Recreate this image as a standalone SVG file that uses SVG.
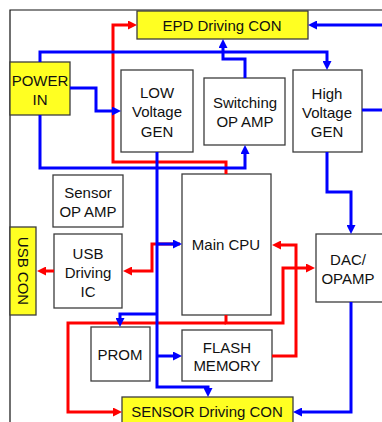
<svg xmlns="http://www.w3.org/2000/svg" width="382" height="422" viewBox="0 0 382 422">
<defs>
<style>
.box{fill:#ffffff;stroke:#3c3c3c;stroke-width:1.3}
.ybox{fill:#ffff22;stroke:#3c3c3c;stroke-width:1.3}
text{font-family:"Liberation Sans",Arial,sans-serif;font-size:15px;fill:#111;text-anchor:middle}
.r{fill:none;stroke:#ff0000;stroke-width:3}
.b{fill:none;stroke:#0000ff;stroke-width:3}
</style>
<marker id="ar" markerUnits="userSpaceOnUse" markerWidth="9" markerHeight="9" refX="3" refY="4.5" orient="auto"><path d="M0,0 L9,4.5 L0,9 z" fill="#ff0000"/></marker>
<marker id="ab" markerUnits="userSpaceOnUse" markerWidth="9" markerHeight="9" refX="3" refY="4.5" orient="auto"><path d="M0,0 L9,4.5 L0,9 z" fill="#0000ff"/></marker>
</defs>
<rect width="382" height="422" fill="#ffffff"/>
<path d="M10,422 V10 H382" fill="none" stroke="#111" stroke-width="1.2"/>

<g id="nodes">
<g id="epd"><rect class="ybox" x="137" y="11" width="171" height="28"/><text x="222" y="31">EPD Driving CON</text></g>
<g id="power"><rect class="ybox" x="10" y="62" width="60" height="53"/><text x="40" y="86">POWER</text><text x="40" y="105">IN</text></g>
<g id="lowv"><rect class="box" x="121" y="70" width="72" height="82"/><text x="157" y="98">LOW</text><text x="157" y="117">Voltage</text><text x="157" y="137">GEN</text></g>
<g id="switch"><rect class="box" x="204" y="78" width="81" height="67"/><text x="245" y="108">Switching</text><text x="245" y="127">OP AMP</text></g>
<g id="highv"><rect class="box" x="293" y="70" width="69" height="82"/><text x="327" y="99">High</text><text x="327" y="118">Voltage</text><text x="327" y="137">GEN</text></g>
<g id="sensoramp"><rect class="box" x="53" y="175" width="70" height="52"/><text x="88" y="198">Sensor</text><text x="88" y="217">OP AMP</text></g>
<g id="usbcon"><rect class="ybox" x="10" y="227" width="26" height="88"/><text transform="translate(23,271) rotate(90)" x="0" y="5">USB CON</text></g>
<g id="usbic"><rect class="box" x="54" y="234" width="68" height="74"/><text x="88" y="259">USB</text><text x="88" y="278">Driving</text><text x="88" y="297">IC</text></g>
<g id="cpu"><rect class="box" x="182" y="174" width="89" height="141"/><text x="226" y="250">Main CPU</text></g>
<g id="dac"><rect class="box" x="316" y="234" width="70" height="68"/><text x="348" y="265">DAC/</text><text x="348" y="284">OPAMP</text></g>
<g id="prom"><rect class="box" x="91" y="327" width="59" height="54"/><text x="120" y="360">PROM</text></g>
<g id="flash"><rect class="box" x="182" y="330" width="90" height="51"/><text x="227" y="353">FLASH</text><text x="227" y="371">MEMORY</text></g>
<g id="sensorcon"><rect class="ybox" x="122" y="397" width="171" height="30"/><text x="207" y="417">SENSOR Driving CON</text></g>
</g>

<g id="connectors">
<path class="r" d="M226,174 V162 H113 V25 H131" marker-end="url(#ar)"/>
<path class="r" d="M180,244 H152 V271 H129" marker-end="url(#ar)"/>
<path class="r" d="M54,271 H43" marker-end="url(#ar)"/>
<path class="r" d="M272,356 H296 V245 H278" marker-end="url(#ar)"/>
<path class="r" d="M226,315 V323 H283 V268 H309" marker-end="url(#ar)"/>
<path class="r" d="M226,323 H68 V412 H116" marker-end="url(#ar)"/>
<path class="b" d="M40,62 V52 H327 V64" marker-end="url(#ab)"/>
<path class="b" d="M70,88 H96 V111 H115" marker-end="url(#ab)"/>
<path class="b" d="M40,115 V168 H245 V151" marker-end="url(#ab)"/>
<path class="b" d="M245,78 V59 H223 V45" marker-end="url(#ab)"/>
<path class="b" d="M382,25 H314" marker-end="url(#ab)"/>
<path class="b" d="M362,110 H382"/>
<path class="b" d="M157,152 V387 H208 V391" marker-end="url(#ab)"/>
<path class="b" d="M157,244 H176" marker-end="url(#ab)"/>
<path class="b" d="M157,314 H120 V321" marker-end="url(#ab)"/>
<path class="b" d="M157,356 H176" marker-end="url(#ab)"/>
<path class="b" d="M327,152 V192 H351 V228" marker-end="url(#ab)"/>
<path class="b" d="M351,302 V412 H299" marker-end="url(#ab)"/>
</g>
</svg>
